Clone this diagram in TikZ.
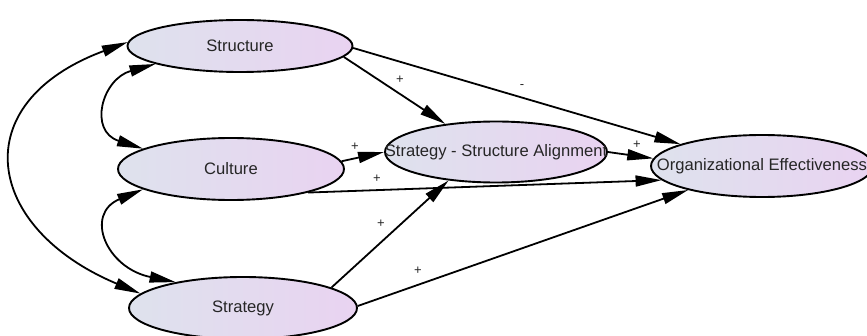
\documentclass[tikz,border=0pt]{standalone}
\usepackage{fontspec}
\setmainfont{Liberation Sans}
\usetikzlibrary{shapes.geometric,arrows.meta}
\definecolor{shadeL}{RGB}{222,226,237}
\definecolor{shadeR}{RGB}{233,211,241}
\definecolor{txt}{RGB}{38,38,38}
\begin{document}
\begin{tikzpicture}[x=1pt,y=1pt,
  construct/.style={ellipse, draw=black, line width=1.9pt,
    left color=shadeL, right color=shadeR, inner sep=0pt},
  caption/.style={font=\fontsize{16.6}{18}\selectfont, text=txt},
  link/.style={line width=1.8pt, -{Triangle[length=26pt,width=11pt]}},
  corr/.style={line width=1.8pt,
    {Triangle[length=26pt,width=11pt]}-{Triangle[length=26pt,width=11pt]}},
  sign/.style={font=\fontsize{13}{13}\selectfont, inner sep=0pt, text=txt}]
\useasboundingbox (0,0) rectangle (867,335);

% constructs
\node[construct, minimum width=225, minimum height=52,
  label={[caption]center:Structure}] (str) at (240,289) {};
\node[construct, minimum width=226, minimum height=62,
  label={[caption]center:Culture}] (cul) at (231,166) {};
\node[construct, minimum width=228, minimum height=62,
  label={[caption]center:Strategy}] (stg) at (243,27) {};
\node[construct, minimum width=222, minimum height=61,
  label={[caption]center:Strategy - Structure Alignment}] (ssa) at (496,183) {};
\node[construct, minimum width=222, minimum height=62,
  label={[caption]center:Organizational Effectiveness}] (oe) at (762,169) {};

% correlations between the exogenous constructs
\draw[corr] (str.178) .. controls (-36,232) and (-16,107) .. (stg.172);
\draw[corr] (str.192) .. controls (102,256) and (88,204) .. (cul.167);
\draw[corr] (cul.193) .. controls (84,121) and (106,67) .. (stg.159);

% directed paths
\draw[link] (str.-6) -- (ssa.151);
\draw[link] (str.-1) -- (oe.165);
\draw[link] (cul.4) -- (ssa.180);
\draw[link] (cul.-17) -- (oe.188);
\draw[link] (stg.13) -- (ssa.211);
\draw[link] (stg.1) -- (oe.198);
\draw[link] (ssa.0) -- (oe.176);

% path signs
\node[sign] (s1) at (400,255) {+};
\node[sign] (s2) at (522,248) {-};
\node[sign] (s3) at (355,188) {+};
\node[sign] (s4) at (377,156) {+};
\node[sign] (s5) at (381,111) {+};
\node[sign] (s6) at (418,64) {+};
\node[sign] (s7) at (637,190) {+};
\end{tikzpicture}
\end{document}
